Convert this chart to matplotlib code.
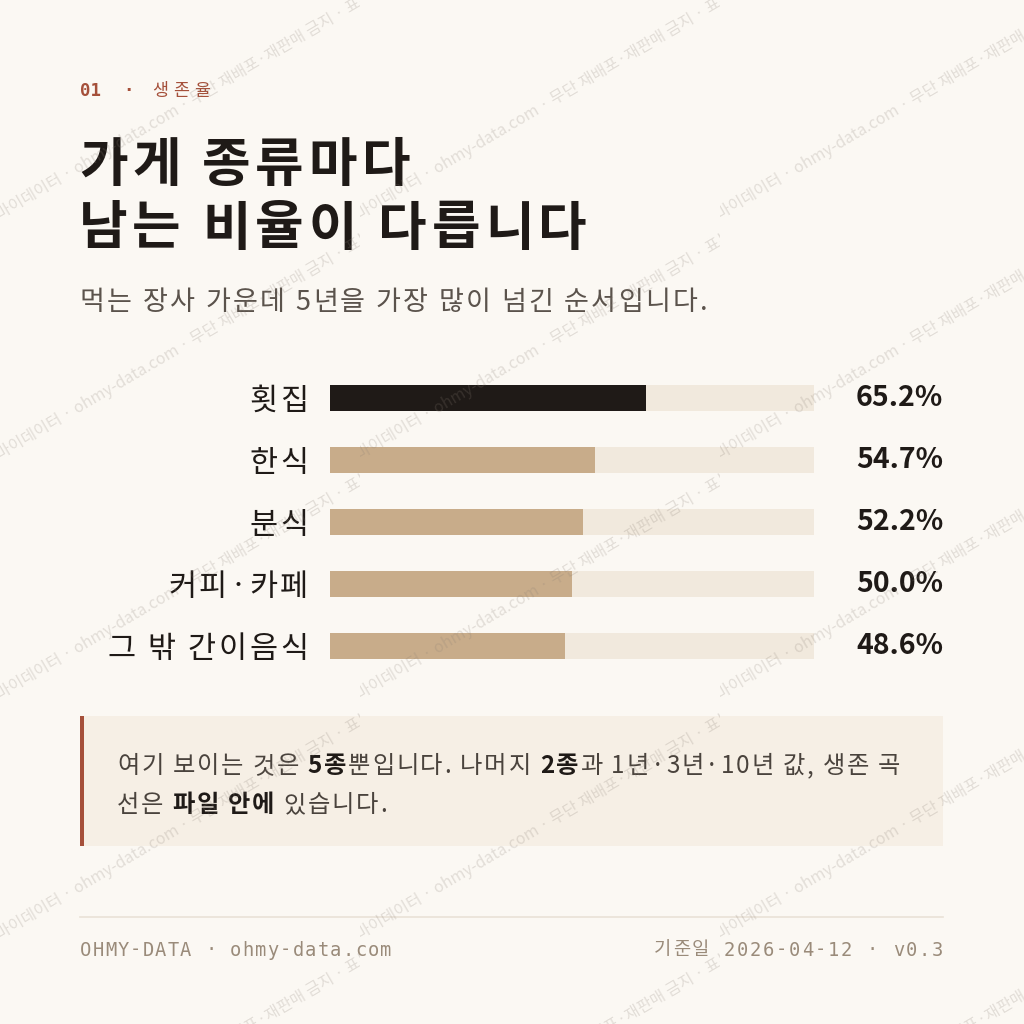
import matplotlib
matplotlib.use("Agg")
import matplotlib.pyplot as plt
from matplotlib.patches import Rectangle
from matplotlib.transforms import blended_transform_factory, offset_copy

# --- data -------------------------------------------------------------------
categories = ["횟집", "한식", "분식", "커피·카페", "그 밖 간이음식"]
survival_5y = [65.2, 54.7, 52.2, 50.0, 48.6]
highlight = "횟집"

kicker_no = "01"
kicker = "생존율"
title_lines = ["가게 종류마다", "남는 비율이 다릅니다"]
subtitle = "먹는 장사 가운데 5년을 가장 많이 넘긴 순서입니다."
note_lines = [
    [("여기 보이는 것은 ", False), ("5종", True), ("뿐입니다. 나머지 ", False),
     ("2종", True), ("과 1년·3년·10년 값, 생존 곡", False)],
    [("선은 ", False), ("파일 안에", True), (" 있습니다.", False)],
]
footer_left = "OHMY-DATA · ohmy-data.com"
footer_right = "기준일 2026-04-12 · v0.3"
watermark = "마이데이터 · ohmy-data.com · 무단 재배포·재판매 금지 · 표본"

# --- style ------------------------------------------------------------------
BG = "#fbf8f3"
INK = "#1f1a17"
TAN = "#c8ac8a"
TRACK = "#f1e9dd"
RUST = "#a5503a"
NOTE_BG = "#f6efe5"
MUTED = "#9a8b7a"
SUB = "#5b534c"
BODY = "#4a433d"
KR = ["Noto Sans CJK KR", "DejaVu Sans"]
MONO = ["DejaVu Sans Mono", "Noto Sans CJK KR"]

fig = plt.figure(figsize=(10.24, 10.24), dpi=100, facecolor=BG)
renderer = fig.canvas.get_renderer()

# pixel canvas for the free text
ax = fig.add_axes([0, 0, 1, 1])
ax.set_xlim(0, 1024)
ax.set_ylim(1024, 0)
ax.axis("off")
ax.patch.set_alpha(0)


def measure(s, **kw):
    """Advance width of s in pixels (the trailing dot keeps spaces counted)."""
    if not s:
        return 0.0
    t = fig.text(0, 0, s + ".", **kw)
    w1 = t.get_window_extent(renderer=renderer).width
    t.set_text(".")
    w0 = t.get_window_extent(renderer=renderer).width
    t.remove()
    return w1 - w0


def tracked(target, x, y, s, track, ha="left", transform=None, **kw):
    """Draw s letter by letter with extra spacing, vertically centred on y as a whole
    string (shared baseline). Returns the advance in px."""
    transform = transform or target.transData
    t = fig.text(0, 0, s, va="baseline", **kw)
    bb = t.get_window_extent(renderer=renderer)
    t.remove()
    dy = -(bb.y0 + bb.y1) / 2 - 3  # a touch lower: layout box includes the descender
    total = measure(s, **kw) + track * len(s)
    start = -(total - track) if ha == "right" else 0.0
    for i, ch in enumerate(s):
        if ch == " ":
            continue
        dx = start + measure(s[:i], **kw) + track * i
        target.text(x, y, ch, transform=offset_copy(transform, fig, x=dx, y=dy, units="dots"),
                    ha="left", va="baseline", **kw)
    return start + total


ax.text(80, 91, kicker_no, family=MONO, weight="bold", fontsize=12.5,
        color=RUST, va="center")
ax.text(123, 91, "·", family=MONO, weight="bold", fontsize=12.5, color=RUST, va="center")
tracked(ax, 152, 88, kicker, 5, family=KR, fontsize=12.5, color=RUST)

for i, line in enumerate(title_lines):
    tracked(ax, 79, 162 + i * 64, line, 4.7, family=KR, weight="bold", fontsize=38,
            color=INK)

tracked(ax, 80, 300, subtitle, 2.3, family=KR, fontsize=19.5, color=SUB)

# note box
ax.add_patch(Rectangle((80, 716), 863, 130, facecolor=NOTE_BG, edgecolor="none"))
ax.add_patch(Rectangle((80, 716), 3.5, 130, facecolor=RUST, edgecolor="none"))

for i, runs in enumerate(note_lines):
    x = 117
    for s, bold in runs:
        x += tracked(ax, x, 763 + i * 39, s, 1.75, family=KR, fontsize=17.5,
                     color=INK if bold else BODY,
                     weight="bold" if bold else "normal")

# footer
ax.plot([80, 943], [917, 917], color="#e9e2d7", lw=1.2)
tracked(ax, 80, 947, footer_left, 1.25, family=MONO, fontsize=13.5, color=MUTED)
tracked(ax, 943, 947, footer_right, 1.75, ha="right", family=MONO, fontsize=13.5,
        color=MUTED)

# --- bars -------------------------------------------------------------------
bx = fig.add_axes([330 / 1024, 1 - 677 / 1024, 484 / 1024, 310 / 1024])
bx.patch.set_alpha(0)
ypos = list(range(len(categories)))
bx.barh(ypos, [100] * len(categories), height=0.41, color=TRACK)
bx.barh(ypos, survival_5y, height=0.41,
        color=[INK if c == highlight else TAN for c in categories])
bx.set_xlim(0, 100)
bx.set_ylim(len(categories) - 0.5, -0.5)
bx.set_xticks([])
bx.set_yticks([])
for s in bx.spines.values():
    s.set_visible(False)
tr = blended_transform_factory(bx.transAxes, bx.transData)
for yv, cat, v in zip(ypos, categories, survival_5y):
    # category label, right edge 22px left of the track
    tracked(bx, 0, yv, cat, 2.6, ha="right",
            transform=offset_copy(tr, fig, x=-22, y=0, units="dots"),
            family=KR, fontsize=22, color=INK)
    bx.text(1.2665, yv, f"{v:.1f}%", transform=tr, ha="right", va="center",
            family=KR, weight="bold", fontsize=20.5, color=INK)

# --- watermark overlay ------------------------------------------------------
wm = fig.add_axes([0, 0, 1, 1])
wm.set_xlim(0, 1024)
wm.set_ylim(1024, 0)
wm.axis("off")
wm.patch.set_alpha(0)
for x0 in range(-360, 1024, 360):
    for y0 in range(-20, 1250, 240):
        t = wm.text(x0, y0, watermark, family=KR, fontsize=11.5, color="#8a7f75",
                    alpha=0.22, rotation=30.5, rotation_mode="anchor",
                    ha="left", va="baseline", clip_on=True)
        t.set_clip_path(Rectangle((x0, y0 - 235), 360, 245, transform=wm.transData))

fig.savefig("out.png", dpi=100, facecolor=BG)
